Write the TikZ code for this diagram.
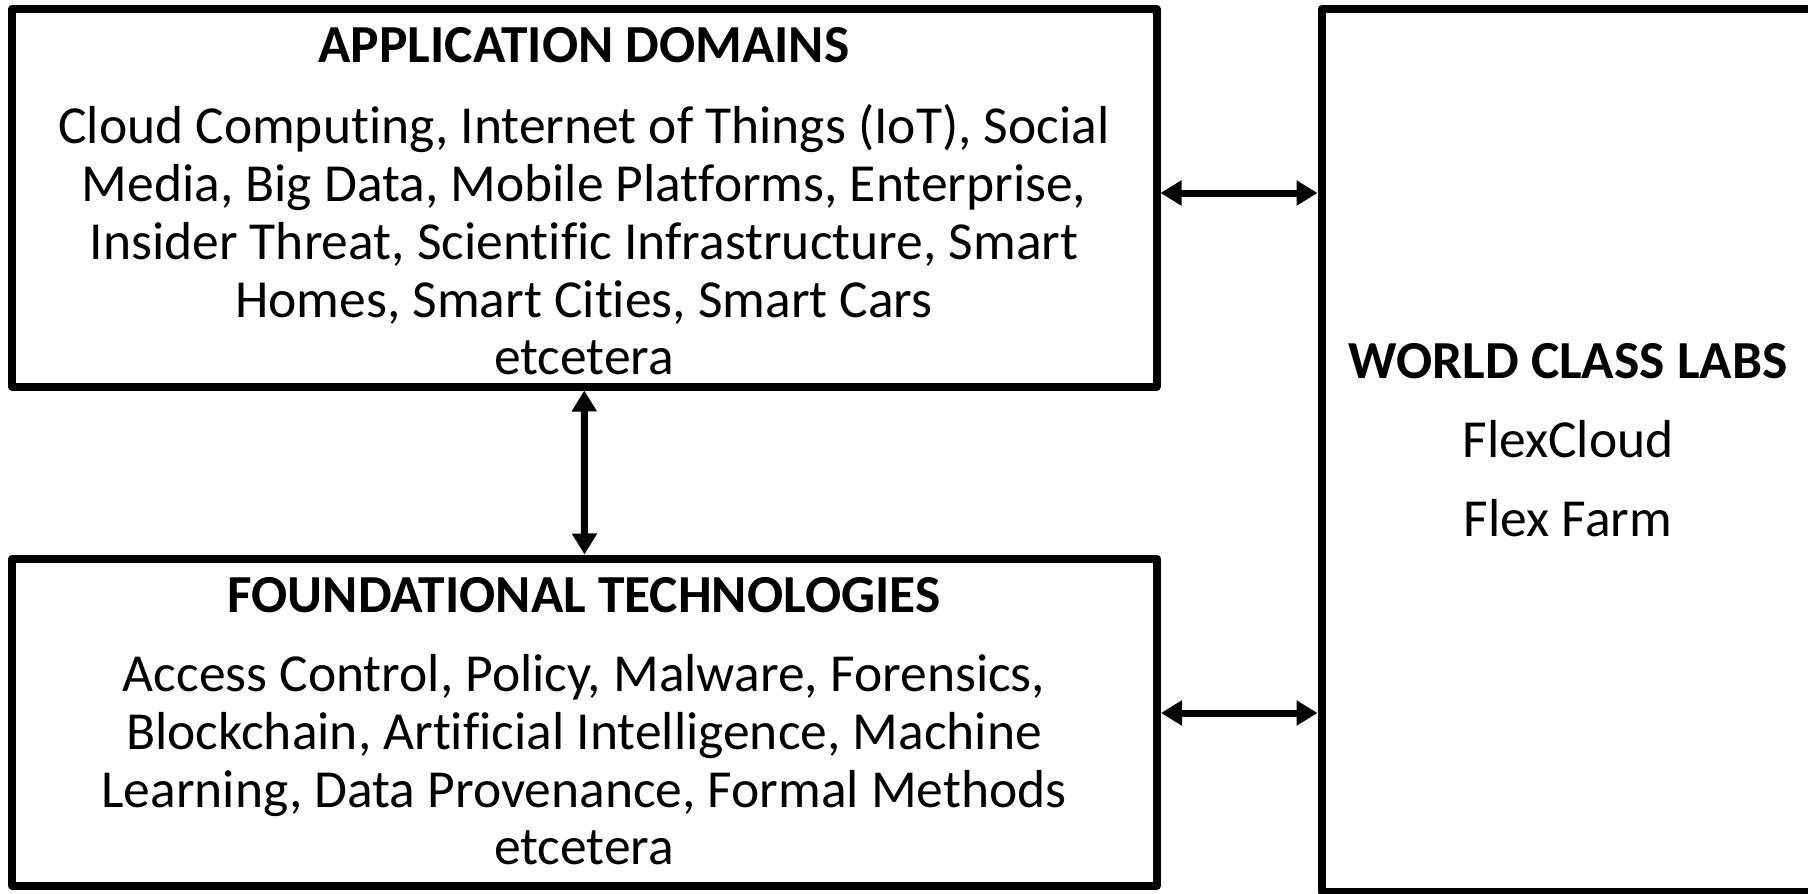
\documentclass[tikz,border=0pt]{standalone}
\usepackage{fontspec}
\setmainfont[Ligatures={NoCommon,NoContextual}]{Carlito}
\usetikzlibrary{arrows.meta}
\tikzset{
  box/.style={draw=black, line width=8pt, line join=round, rectangle, inner sep=0pt},
  link/.style={line width=7pt, {Triangle[length=21pt,width=24pt]}-{Triangle[length=21pt,width=24pt]}},
  head/.style={font=\fontsize{53.5}{57.7}\selectfont\bfseries, inner sep=0pt, anchor=center},
  body/.style={font=\fontsize{53.5}{57.7}\selectfont, align=center, inner sep=0pt, anchor=center},
}
\begin{document}
\begin{tikzpicture}[x=1pt,y=-1pt]
\useasboundingbox (0,0) rectangle (1808,894);
\node[box, minimum width=1144.5pt, minimum height=377.5pt] (app) at (584.25,197.75) {};
\node[box, minimum width=1145pt, minimum height=327pt] (found) at (584.5,722) {};
\node[box, minimum width=628.5pt, minimum height=883pt] (labs) at (1635.75,450.5) {};
\node[head] (apptitle) at (584,45) {APPLICATION DOMAINS};
\node[body] (appbody) at (584,240) {Cloud Computing, Internet of Things (IoT), Social\\Media, Big Data, Mobile Platforms, Enterprise,\\Insider Threat, Scientific Infrastructure, Smart\\Homes, Smart Cities, Smart Cars\\etcetera};
\node[head] (foundtitle) at (584,595) {FOUNDATIONAL TECHNOLOGIES};
\node[body] (foundbody) at (584,760) {Access Control, Policy, Malware, Forensics,\\Blockchain, Artificial Intelligence, Machine\\Learning, Data Provenance, Formal Methods\\etcetera};
\node[head] (labstitle) at (1568,361) {WORLD CLASS LABS};
\node[body] (flexcloud) at (1568,439) {FlexCloud};
\node[body] (flexfarm) at (1568,518) {Flex Farm};
\draw[link] ([yshift=4.75pt]app.east) -- ([yshift=4.75pt]app.east -| labs.west);
\draw[link] ([yshift=9pt]found.east) -- ([yshift=9pt]found.east -| labs.west);
\draw[link] (app.south) -- (found.north);
\end{tikzpicture}
\end{document}
